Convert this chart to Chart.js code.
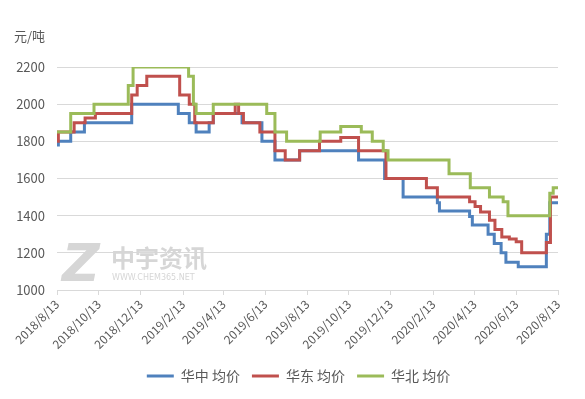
<!DOCTYPE html>
<html>
<head>
<meta charset="utf-8">
<script src="https://cdn.jsdelivr.net/npm/chart.js@4/dist/chart.umd.min.js"></script>
<style>
  html, body { margin: 0; padding: 0; background: #fff; }
  #wrap { width: 585px; height: 399px; position: relative; }
</style>
</head>
<body>
<div id="wrap"><canvas id="myChart" width="585" height="399"></canvas></div>
<script>
// series data: each date is the day a new price starts
var startDate = '2018-08-13';
var tickDates = ['2018-08-13', '2018-10-13', '2018-12-13', '2019-02-13', '2019-04-13', '2019-06-13',
  '2019-08-13', '2019-10-13', '2019-12-13', '2020-02-13', '2020-04-13', '2020-06-13', '2020-08-13'];
var tickLabels = ['2018/8/13', '2018/10/13', '2018/12/13', '2019/2/13', '2019/4/13', '2019/6/13',
  '2019/8/13', '2019/10/13', '2019/12/13', '2020/2/13', '2020/4/13', '2020/6/13', '2020/8/13'];

var huazhongDates = ['2018-08-13', '2018-08-15', '2018-09-02', '2018-09-22', '2018-11-30', '2019-02-06',
  '2019-02-22', '2019-03-04', '2019-03-23', '2019-03-29', '2019-05-10', '2019-06-08', '2019-06-27',
  '2019-08-02', '2019-10-27', '2019-12-04', '2019-12-31', '2020-02-19', '2020-02-22', '2020-04-06',
  '2020-04-10', '2020-05-03', '2020-05-12', '2020-05-22', '2020-05-29', '2020-06-16', '2020-07-27',
  '2020-08-01', '2020-08-13'];
var huazhongValues = [1780, 1800, 1850, 1900, 2000, 1950,
  1900, 1850, 1900, 1950, 1900, 1800, 1700,
  1750, 1700, 1600, 1500, 1470, 1425, 1395,
  1350, 1300, 1250, 1200, 1150, 1125, 1300,
  1470, 1470];

var huadongDates = ['2018-08-13', '2018-08-15', '2018-09-07', '2018-09-23', '2018-10-08', '2018-11-30',
  '2018-12-08', '2018-12-22', '2019-02-08', '2019-02-22', '2019-03-02', '2019-03-29', '2019-04-30',
  '2019-05-05', '2019-05-12', '2019-06-05', '2019-06-27', '2019-07-12', '2019-08-02', '2019-08-31',
  '2019-10-01', '2019-10-27', '2019-12-06', '2020-02-03', '2020-02-19', '2020-04-06', '2020-04-14',
  '2020-04-22', '2020-05-05', '2020-05-13', '2020-05-23', '2020-06-03', '2020-06-13', '2020-06-21',
  '2020-07-27', '2020-08-02', '2020-08-13'];
var huadongValues = [1800, 1850, 1900, 1925, 1950, 2050,
  2100, 2150, 2050, 2000, 1900, 1950, 2000,
  1950, 1900, 1850, 1750, 1700, 1750, 1800,
  1820, 1750, 1600, 1550, 1500, 1475, 1450,
  1420, 1375, 1325, 1285, 1275, 1260, 1200,
  1255, 1500, 1500];

var huabeiDates = ['2018-08-13', '2018-09-02', '2018-10-06', '2018-11-25', '2018-12-02', '2019-02-21',
  '2019-02-28', '2019-03-04', '2019-03-29', '2019-06-15', '2019-06-27', '2019-07-14', '2019-09-01',
  '2019-10-01', '2019-10-31', '2019-11-16', '2019-12-02', '2019-12-09', '2020-03-07', '2020-04-07',
  '2020-05-05', '2020-05-25', '2020-06-01', '2020-08-01', '2020-08-06', '2020-08-13'];
var huabeiValues = [1850, 1950, 2000, 2100, 2200, 2150,
  2000, 1950, 2000, 1950, 1850, 1800, 1850,
  1880, 1850, 1800, 1750, 1700, 1625, 1550,
  1500, 1475, 1400, 1520, 1550, 1550];

var seriesNames = ['华中 均价', '华东 均价', '华北 均价'];
var seriesColors = ['#4f81bd', '#c0504d', '#9bbb59'];

function dayOf(s) {
  return Math.round((Date.parse(s) - Date.parse(startDate)) / 86400000);
}
function toPoints(dates, values) {
  return dates.map(function (d, i) { return { x: dayOf(d), y: values[i] }; });
}
var tickDays = tickDates.map(dayOf);

var fontFamily = '"Noto Sans CJK SC", "Microsoft YaHei", sans-serif';
var textColor = '#595959';

// grey logo behind the lines + unit label at the top left
var extras = {
  id: 'extras',
  afterLayout: function (chart) {
    // legend sits a little right of centre in the original
    chart.legend.left += 6;
    chart.legend.right += 6;
  },
  beforeDatasetsDraw: function (chart) {
    var ctx = chart.ctx;
    ctx.save();
    ctx.fillStyle = '#d6d6d6';
    ctx.textBaseline = 'alphabetic';
    ctx.font = 'italic bold 52px "DejaVu Sans", sans-serif';
    ctx.fillText('Z', 62, 281);
    ctx.font = 'bold 24px ' + fontFamily;
    ctx.fillText('中宇资讯', 111, 267);
    ctx.font = '8px "DejaVu Sans", sans-serif';
    ctx.fillText('WWW.CHEM365.NET', 112, 280);
    ctx.restore();
  },
  afterDraw: function (chart) {
    var ctx = chart.ctx;
    ctx.save();
    ctx.fillStyle = textColor;
    ctx.font = '13px ' + fontFamily;
    ctx.textBaseline = 'middle';
    ctx.fillText('元/吨', 14, 36);
    ctx.restore();
  }
};

var element = document.getElementById('myChart').getContext('2d');

var chartData = {
  datasets: [
    { label: seriesNames[0], data: toPoints(huazhongDates, huazhongValues), order: 3 },
    { label: seriesNames[1], data: toPoints(huadongDates, huadongValues), order: 2 },
    { label: seriesNames[2], data: toPoints(huabeiDates, huabeiValues), order: 1 }
  ].map(function (ds, i) {
    ds.borderColor = seriesColors[i];
    ds.backgroundColor = seriesColors[i];
    ds.borderWidth = 3;
    ds.pointRadius = 0;
    ds.stepped = true;
    return ds;
  })
};

var chartOptions = {
  responsive: false,
  animation: false,
  layout: { padding: { top: 67, right: 0, left: 0, bottom: 6 } },
  scales: {
    x: {
      type: 'linear',
      min: 0,
      max: tickDays[tickDays.length - 1],
      afterBuildTicks: function (axis) {
        axis.ticks = tickDays.map(function (v) { return { value: v }; });
      },
      afterFit: function (axis) { axis.height = 67; },
      ticks: {
        autoSkip: false,
        maxRotation: 45,
        minRotation: 45,
        color: textColor,
        font: { family: fontFamily, size: 12 },
        padding: 2,
        callback: function (v) {
          var i = tickDays.indexOf(v);
          return i >= 0 ? tickLabels[i] : '';
        }
      },
      grid: { drawOnChartArea: false, color: '#d9d9d9', tickLength: 5 },
      border: { color: '#d9d9d9' }
    },
    y: {
      min: 1000,
      max: 2200,
      afterFit: function (axis) { axis.width = 57; },
      ticks: {
        stepSize: 200,
        color: textColor,
        font: { family: fontFamily, size: 13 },
        padding: 12,
        callback: function (v) { return String(v); }
      },
      grid: { color: '#d9d9d9', drawTicks: false },
      border: { display: false }
    },
    // empty strip on the right so the plot stops short of the edge
    yRight: {
      position: 'right',
      afterFit: function (axis) { axis.width = 27; },
      ticks: { display: false },
      grid: { display: false },
      border: { display: false }
    }
  },
  plugins: {
    legend: {
      position: 'bottom',
      labels: {
        color: textColor,
        font: { family: fontFamily, size: 14 },
        boxWidth: 27,
        boxHeight: 3,
        padding: 12,
        sort: function (a, b) { return a.datasetIndex - b.datasetIndex; },
        generateLabels: function (chart) {
          return Chart.defaults.plugins.legend.labels.generateLabels(chart).map(function (l) {
            l.lineWidth = 0;
            return l;
          });
        }
      }
    },
    tooltip: { enabled: false }
  }
};

var chart = new Chart(element, { type: 'line', data: chartData, options: chartOptions, plugins: [extras] });
</script>
</body>
</html>
